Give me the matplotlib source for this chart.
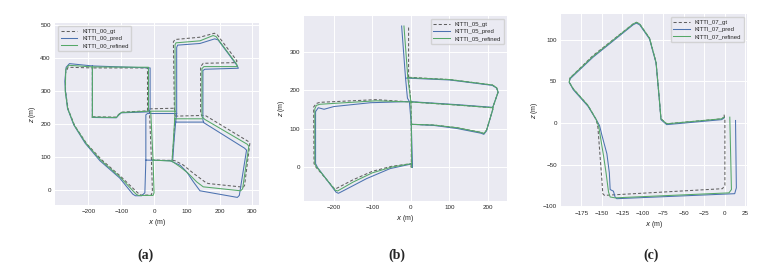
import numpy as np
import matplotlib
matplotlib.use('Agg')
import matplotlib.pyplot as plt

# trajectories (x, z in metres), one list per polyline
gt00 = [
    [(-188, 222), (-188, 370), (-262, 372), (-270, 355), (-270, 300), (-262, 245),
     (-242, 195), (-205, 140), (-160, 92), (-100, 40), (-50, -8), (-40, -15),
     (-8, -15), (-5, 0), (-8, 91), (55, 90), (64, 89), (89, 76), (120, 51),
     (155, 25), (165, 20), (272, 9), (276, 14), (292, 141), (288, 147),
     (158, 225), (145, 226), (142, 236), (142, 374), (150, 384), (250, 386),
     (253, 391), (193, 470), (184, 475), (140, 463), (64, 456), (59, 449),
     (62, 248), (64, 224), (60, 150), (55, 90)],
    [(-188, 222), (-115, 221), (-108, 229), (-100, 236), (-20, 240), (-20, 370), (-188, 370)],
    [(-8, 91), (-14, 240), (-16, 246), (62, 248)],
    [(64, 224), (145, 226)],
]
pred00 = [
    [(-188, 220), (-188, 376), (-258, 383), (-268, 372), (-272, 330), (-270, 300), (-264, 248),
     (-245, 198), (-210, 142), (-165, 89), (-105, 37), (-65, -12), (-57, -17),
     (-38, -17), (-28, -8), (-25, 91), (49, 89), (80, 75), (99, 56), (120, 25), (140, -2),
     (254, -22), (260, -16), (282, 121), (276, 127), (152, 204), (149, 212),
     (149, 362), (155, 366), (257, 369), (254, 376), (195, 455), (185, 458), (140, 444),
     (72, 439), (69, 432), (69, 232), (66, 206), (61, 150), (57, 91)],
    [(-188, 220), (-115, 219), (-108, 227), (-100, 234), (-15, 237), (-12, 245), (-12, 370), (-188, 376)],
    [(-25, 91), (-25, 228), (-20, 232), (69, 232)],
    [(66, 206), (149, 206)],
]
ref00 = [
    [(-188, 221), (-188, 373), (-260, 378), (-269, 366), (-271, 300), (-263, 246),
     (-243, 196), (-207, 141), (-162, 90), (-102, 38), (-55, -12), (-48, -16),
     (-3, -16), (0, -8), (-3, 91), (54, 88), (80, 70), (104, 51), (130, 25), (150, 10),
     (264, -2), (270, 4), (289, 133), (284, 139), (155, 214), (146, 222),
     (146, 368), (152, 374), (254, 374), (252, 381), (189, 465), (180, 468), (140, 452),
     (67, 446), (64, 440), (64, 239), (63, 216), (59, 150), (55, 90)],
    [(-188, 221), (-115, 220), (-108, 228), (-100, 235), (-17, 239), (-17, 372), (-188, 373)],
    [(-3, 91), (-10, 236), (-12, 239), (64, 239)],
    [(63, 216), (146, 216)],
]

gt05 = [
    [(0, 0), (1, 10), (1, 112), (60, 110), (120, 103), (181, 91), (189, 88), (196, 97),
     (212, 150), (212, 155), (120, 162), (0, 170), (-90, 176), (-236, 169), (-245, 166),
     (-252, 157), (-251, 10), (-247, 2), (-200, -53), (-196, -56), (-150, -32),
     (-100, -10), (-50, 3), (1, 10)],
    [(1, 112), (0, 170), (-6, 233), (-6, 368)],
    [(-6, 234), (101, 228), (211, 214), (222, 207), (226, 196), (212, 155)],
]
pred05 = [
    [(4, 0), (4, 10), (1, 112), (60, 109), (120, 101), (181, 89), (189, 86), (196, 95),
     (212, 150), (212, 156), (120, 163), (-4, 171), (-105, 168), (-200, 158), (-225, 151),
     (-240, 155), (-247, 145), (-247, 10), (-242, 0), (-194, -64), (-188, -67), (-180, -63),
     (-115, -29), (-54, -3), (1, 9), (4, 10)],
    [(1, 112), (-4, 171), (-9, 180), (-14, 233), (-24, 367)],
    [(-14, 232), (101, 227), (211, 213), (222, 206), (226, 195), (212, 156)],
]
ref05 = [
    [(2, 0), (2, 10), (1, 112), (60, 110), (120, 103), (181, 91), (189, 88), (196, 97),
     (212, 150), (212, 155), (120, 162), (0, 170), (-90, 173), (-236, 164), (-245, 161),
     (-249, 152), (-249, 10), (-245, 2), (-196, -59), (-190, -61), (-150, -38),
     (-100, -14), (-50, 1), (2, 10)],
    [(1, 112), (0, 170), (-8, 233), (-18, 367)],
    [(-8, 233), (101, 228), (211, 214), (222, 207), (226, 196), (212, 155)],
]

gt07 = [
    [(-1, 10), (0, 4), (0, -75), (-3, -79), (-147, -87), (-149, -85), (-150, -70), (-155, -5),
     (-157, 4), (-167, 21), (-185, 41), (-190, 49), (-189, 54), (-161, 81), (-112, 119),
     (-108, 121), (-104, 119), (-92, 102), (-84, 73), (-80, 29), (-78, 5), (-71, -1),
     (-4, 5), (-1, 7)],
]
pred07 = [
    [(13, 3), (14, -78), (12, -85), (-132, -91), (-134, -89), (-136, -82), (-140, -80),
     (-141, -60), (-144, -37), (-150, -15), (-153, -3), (-157, 4), (-167, 20), (-185, 40),
     (-190, 49), (-189, 53), (-161, 79), (-112, 118), (-108, 120), (-104, 118), (-92, 101),
     (-84, 72), (-80, 28), (-78, 4), (-71, -2), (-4, 4), (-1, 6)],
]
ref07 = [
    [(6, 7), (8, -80), (5, -84), (-134, -90), (-140, -89), (-142, -83), (-145, -60),
     (-148, -40), (-154, -4), (-157, 4), (-167, 21), (-185, 41), (-190, 49), (-189, 54),
     (-161, 80), (-112, 119), (-108, 121), (-104, 119), (-92, 102), (-84, 73), (-80, 29),
     (-78, 5), (-71, -1), (-4, 5), (-1, 7)],
]

seqs = ['00', '05', '07']
trajs = [(gt00, pred00, ref00), (gt05, pred05, ref05), (gt07, pred07, ref07)]
xticks = [[-200, -100, 0, 100, 200, 300], [-200, -100, 0, 100, 200],
          [-175, -150, -125, -100, -75, -50, -25, 0, 25]]
yticks = [[0, 100, 200, 300, 400, 500], [0, 100, 200, 300], [-100, -50, 0, 50, 100]]
xlims = [(-302, 320), (-277, 249), (-200, 27)]
ylims = [(-45, 506), (-87, 393), (-101, 131)]
legend_loc = ['upper left', 'upper right', 'upper right']
captions = ['(a)', '(b)', '(c)']

plt.rcParams.update({
    'font.family': ['Liberation Sans', 'DejaVu Sans'],
    'axes.facecolor': '#EAEAF2',
    'axes.edgecolor': 'white',
    'grid.color': 'white',
    'grid.linewidth': 0.7,
    'text.color': '.15',
    'axes.labelcolor': '.15',
    'xtick.color': '.15',
    'ytick.color': '.15',
    'xtick.major.size': 0,
    'ytick.major.size': 0,
    'xtick.major.pad': 3,
    'ytick.major.pad': 3,
    'xtick.labelsize': 4.5,
    'ytick.labelsize': 4.5,
    'axes.labelsize': 5,
})


def join(polys):
    xs, ys = [], []
    for p in polys:
        xs += [q[0] for q in p] + [np.nan]
        ys += [q[1] for q in p] + [np.nan]
    return xs, ys


fig = plt.figure(figsize=(7.72, 2.70), dpi=100)
rects = [[55 / 772, 65 / 270, 204 / 772, 182 / 270],
         [304 / 772, 69 / 270, 203 / 772, 185 / 270],
         [561 / 772, 63 / 270, 186 / 772, 193 / 270]]
cap_x = [145 / 772, 397 / 772, 651 / 772]

for i in range(3):
    ax = fig.add_axes(rects[i])
    ax.set_axisbelow(True)
    ax.grid(True)
    for s in ax.spines.values():
        s.set_visible(False)
    gt, pred, ref = trajs[i]
    x, y = join(gt)
    ax.plot(x, y, color='#606060', lw=0.75, ls=(0, (3, 2)), label='KITTI_%s_gt' % seqs[i])
    x, y = join(pred)
    ax.plot(x, y, color='#4C72B0', lw=0.75, label='KITTI_%s_pred' % seqs[i])
    x, y = join(ref)
    ax.plot(x, y, color='#55A868', lw=0.75, label='KITTI_%s_refined' % seqs[i])
    ax.set_xlim(*xlims[i])
    ax.set_ylim(*ylims[i])
    ax.set_xticks(xticks[i])
    ax.set_yticks(yticks[i])
    ax.set_xlabel('$x$ (m)', labelpad=2)
    ax.set_ylabel('$z$ (m)', labelpad=2)
    ax.legend(loc=legend_loc[i], fontsize=4.3, handlelength=2.8, borderpad=0.45,
              labelspacing=0.35, facecolor='#EAEAF2', edgecolor='0.8', framealpha=0.8)
    fig.text(cap_x[i], 1 - 255 / 270, captions[i], ha='center', va='center',
             family=['Liberation Serif', 'DejaVu Serif'], weight='bold', fontsize=10)

fig.savefig('out.png', dpi=100, facecolor='white')
